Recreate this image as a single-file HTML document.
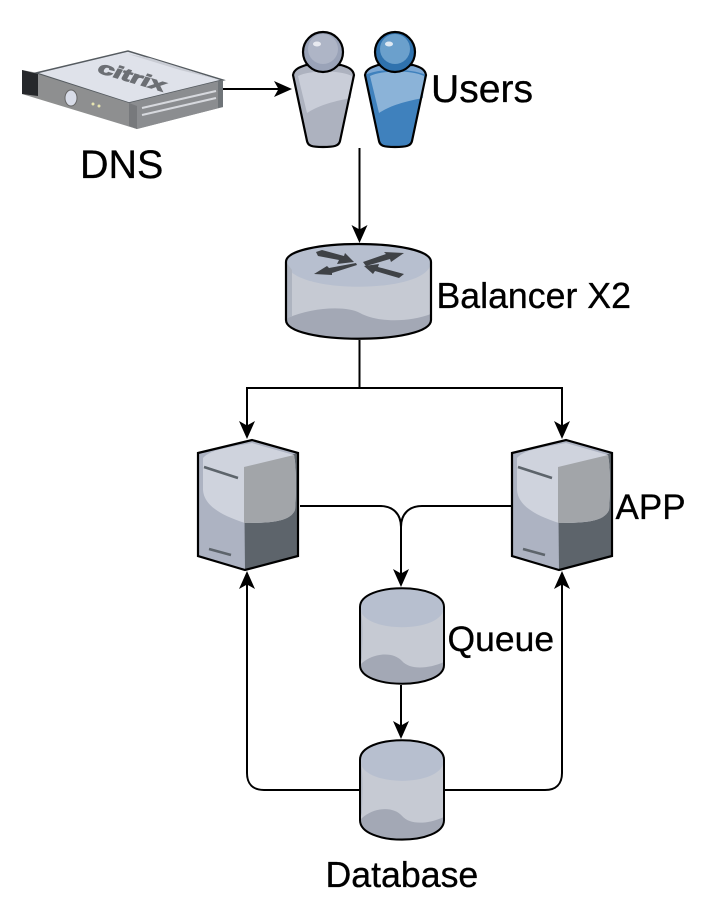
<!DOCTYPE html>
<html><head><meta charset="utf-8"><style>
html,body{margin:0;padding:0;background:#fff}
svg{display:block}
text{font-family:"Liberation Sans",Arial,sans-serif;fill:#000;stroke:#000;stroke-width:.3}
</style></head><body>
<svg width="708" height="918" viewBox="0 0 708 918" xmlns="http://www.w3.org/2000/svg">
<defs>
<marker id="a" markerUnits="userSpaceOnUse" markerWidth="18" markerHeight="18" refX="14" refY="9" orient="auto">
<path d="M0 1 L18 9 L0 17 L4.5 9 Z" fill="#000"/></marker>
<g id="cyl">
<path d="M0 19 C0 -6 84 -6 84 19 V77 C84 102 0 102 0 77 Z" fill="#c6cad3"/>
<path d="M0 19 C0 -6 84 -6 84 19 C84 46 0 46 0 19 Z" fill="#b7bfcf"/>
<path d="M0 19 C4 30 2 60 2 70 L0 77Z" fill="#aeb4c0"/>
<path d="M2 75 C15 64 34 64 42 73 C50 82 68 81 84 74 V77 C84 102 0 102 0 77 Z" fill="#a3a8b5"/>
<path d="M0 19 C0 -6 84 -6 84 19 V77 C84 102 0 102 0 77 Z" fill="none" stroke="#000" stroke-width="2"/>
</g>
<g id="srv">
<path d="M198 453 L252 440 L298 453 V556 L245 570 L198 556 Z" fill="#adb3c2"/>
<path d="M244 467 L298 453 V556 L245 570 Z" fill="#5d646b"/>
<path d="M203 458 C210 450 225 448 252 443 L294 455 C297 470 296 500 295 510 C290 522 270 523 245 523 C220 515 204 505 203 490 Z" fill="#cfd3dd"/>
<path d="M244 467 L294 455 C297 470 296 500 295 510 C290 522 270 523 244 523 Z" fill="#a2a5a9"/>
<path d="M204 467 L238 478 M209 549 L231 555" stroke="#5d646b" stroke-width="2.5" fill="none"/>
<path d="M198 453 L252 440 L298 453 V556 L245 570 L198 556 Z" fill="none" stroke="#000" stroke-width="2.2"/>
</g>
</defs>

<!-- connectors -->
<g fill="none" stroke="#000" stroke-width="2">
<path d="M222 89 H288" marker-end="url(#a)"/>
<path d="M359.5 148 V239" marker-end="url(#a)"/>
<path d="M359.5 340 V388" />
<path d="M247 435 V388 H562 V435" />
<path d="M247 400 V435" marker-end="url(#a)"/>
<path d="M562 400 V435" marker-end="url(#a)"/>
<path d="M300 506 H380 C393 506 401 514 401 527 V583" marker-end="url(#a)"/>
<path d="M512 506 H422 C409 506 401 514 401 527 V583"/>
<path d="M401 685 V735" marker-end="url(#a)"/>
<path d="M360 790 H264 C253 790 247 784 247 773 V575" marker-end="url(#a)"/>
<path d="M444 790 H545 C556 790 562 784 562 773 V575" marker-end="url(#a)"/>
</g>

<!-- DNS device -->
<path d="M22 70 L38 73 L128 51 L223 80 V107 L137 129 L22 94 Z" fill="#8f9090"/>
<path d="M36 73 L128 51 L223 80 L129 103 Z" fill="#dfe2ea" stroke="#555b60" stroke-width="1.5"/>
<path d="M128 54 L150 58 L220 80 L180 70 Z" fill="#c9ccd4"/>
<path d="M22 70 L38 74 V96 L22 94 Z" fill="#26282b"/>
<path d="M38 74 L129 103 L137 129 L38 96 Z" fill="#8e8f90"/>
<path d="M129 103 L223 80 V107 L137 129 Z" fill="#8b8d90"/>
<path d="M129 103 L137 106 V129 L129 126 Z" fill="#77797c"/>
<path d="M218 81 L223 80 V107 L218 108 Z" fill="#6f7478"/>
<path d="M142 108 L216 91 M142 115 L216 98" stroke="#d7d9de" stroke-width="2" fill="none"/>
<ellipse cx="71" cy="98" rx="6" ry="8" fill="#d8dce8" stroke="#666" stroke-width="1"/>
<circle cx="93" cy="104" r="1.5" fill="#e7e4b0"/><circle cx="99" cy="106" r="1.5" fill="#e7e4b0"/>
<text transform="matrix(.95,.28,-.35,.6,96,72)" font-size="26" font-weight="bold" style="fill:#6c6f74;stroke:#6c6f74;stroke-width:1.4" textLength="70" lengthAdjust="spacingAndGlyphs">citrix</text>

<!-- Users -->
<path d="M293 75 C294 69 300 67 306 65 H341 C348 67 353 69 354 75 L340 141 C339 146 334 147 323 147 C312 147 308 146 307 141 Z" fill="#adb2bf"/>
<path d="M298 76 C310 70 340 70 352 76 L351 98 C330 102 318 106 307 113 Z" fill="#c9cdd8"/>
<path d="M293 75 C294 69 300 67 306 65 H341 C348 67 353 69 354 75 L340 141 C339 146 334 147 323 147 C312 147 308 146 307 141 Z" fill="none" stroke="#000" stroke-width="2.2"/>
<circle cx="323" cy="52" r="20" fill="#9aa3b8" stroke="#000" stroke-width="2.2"/>
<circle cx="323" cy="49" r="15" fill="#aeb5c6"/>
<ellipse cx="317" cy="44" rx="4" ry="2.5" fill="#e8eaf0"/>
<path d="M365 75 C366 69 372 67 378 65 H413 C420 67 425 69 426 75 L412 141 C411 146 406 147 395 147 C384 147 380 146 379 141 Z" fill="#3f81bd"/>
<path d="M365 75 C366 69 372 67 378 65 H413 C420 67 425 69 426 75 C410 68 380 68 365 75 Z" fill="#7da8d4"/>
<path d="M370 76 C382 70 412 70 424 76 L423 98 C402 102 390 106 379 113 Z" fill="#8bb3d8"/>
<path d="M365 75 C366 69 372 67 378 65 H413 C420 67 425 69 426 75 L412 141 C411 146 406 147 395 147 C384 147 380 146 379 141 Z" fill="none" stroke="#000" stroke-width="2.2"/>
<circle cx="395" cy="52" r="20" fill="#2f72ae" stroke="#000" stroke-width="2.2"/>
<circle cx="395" cy="49" r="15" fill="#6ba0cc"/>
<ellipse cx="389" cy="44" rx="4" ry="2.5" fill="#dfe9f3"/>

<!-- Balancer -->
<path d="M286 262 C286 238 431 238 431 262 V320 C431 345 286 345 286 320 Z" fill="#c6cad3"/>
<path d="M286 262 C286 238 431 238 431 262 C431 295 286 295 286 262 Z" fill="#b7bfcf"/>
<path d="M286 262 L292 270 V316 L286 320 Z" fill="#aeb4c0"/>
<path d="M288 318 C310 308 345 305 360 313 C378 323 410 322 431 314 V320 C431 345 286 345 286 320 Z" fill="#a3a8b5"/>
<path d="M286 262 C286 238 431 238 431 262 V320 C431 345 286 345 286 320 Z" fill="none" stroke="#000" stroke-width="2.2"/>
<g fill="#3f4246">
<path d="M316 252 L322 250 L344 256 L345 253 L354 262 L337 264 L339 260 L318 256 Z"/>
<path d="M363 262 L386 254 L384 252 L404 253 L391 262 L390 259 L366 266 Z"/>
<path d="M314 274 L327 266 L329 268 L356 263 L357 265 L332 273 L332 275 Z"/>
<path d="M364 266 L379 264 L378 267 L404 274 L399 278 L375 271 L373 274 Z"/>
</g>

<!-- Servers -->
<use href="#srv"/>
<use href="#srv" x="314"/>

<!-- DBs -->
<use href="#cyl" x="360" y="588"/>
<use href="#cyl" transform="translate(360,740) scale(1,1.04)"/>

<!-- Labels -->
<text x="80" y="178" font-size="39.5">DNS</text>
<text x="431" y="102" font-size="38.5" textLength="102" lengthAdjust="spacingAndGlyphs">Users</text>
<text x="436.5" y="308" font-size="35.7">Balancer X2</text>
<text x="615.5" y="519" font-size="35">APP</text>
<text x="447.5" y="651" font-size="35.5">Queue</text>
<text x="325.5" y="887" font-size="35.7">Database</text>
</svg>
</body></html>
